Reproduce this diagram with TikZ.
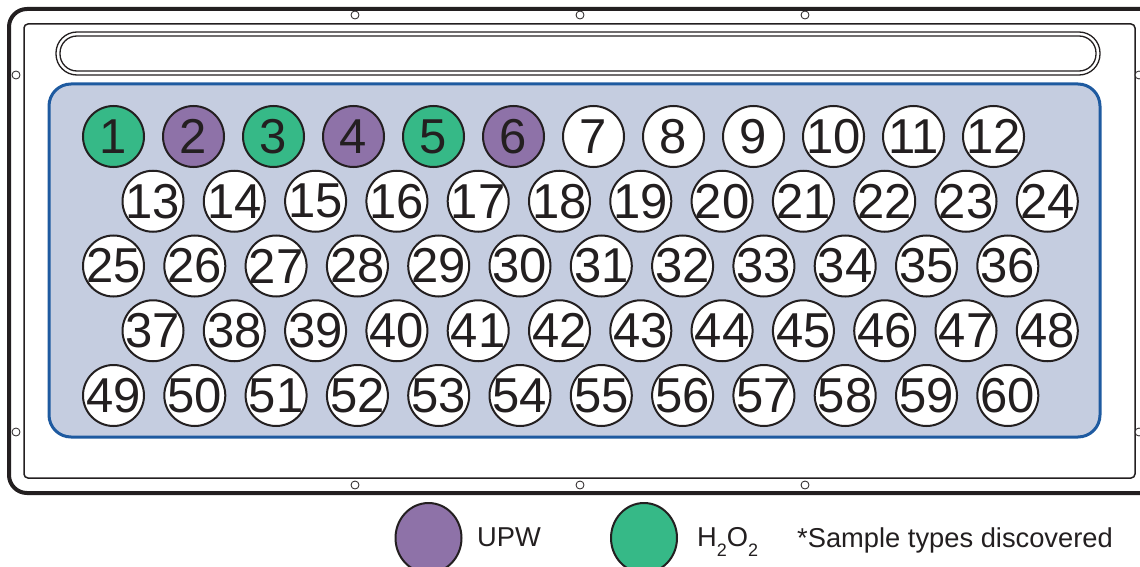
\documentclass[tikz,border=0pt]{standalone}
\usepackage{fontspec}
\setmainfont{Liberation Sans}
\usetikzlibrary{shapes.geometric}

\definecolor{ink}{RGB}{35,31,32}
\definecolor{wellgreen}{RGB}{54,185,135}
\definecolor{wellpurple}{RGB}{142,114,168}
\definecolor{panelfill}{RGB}{197,205,224}
\definecolor{panelblue}{RGB}{30,90,160}

\newcommand{\wellno}[1]{\makebox[0pt]{#1}}

\tikzset{
  well/.style={circle, draw=ink, line width=2pt, fill=white, minimum size=61pt,
    inner sep=0pt, text=ink, font=\fontsize{49}{49}\selectfont},
  upw/.style={well, fill=wellpurple},
  peroxide/.style={well, fill=wellgreen},
  keydot/.style={ellipse, draw=ink, line width=2pt, minimum width=66pt,
    minimum height=70pt, inner sep=0pt},
  keytext/.style={anchor=base west, inner sep=0pt, text=ink,
    font=\fontsize{27.3}{27.3}\selectfont},
}

\begin{document}
\begin{tikzpicture}[x=1pt,y=-1pt]
\useasboundingbox (0,0) rectangle (1140,567);
\clip (0,0) rectangle (1140,567);

% plate frame
\draw[ink, line width=4pt, rounded corners=18pt] (9,9) rectangle (1190,493);
\draw[ink, line width=1.5pt, rounded corners=4pt] (24,24) rectangle (1135,478);
\foreach \x in {355,580,805} {
  \draw[ink, line width=0.8pt, fill=white] (\x,15) circle (4);
  \draw[ink, line width=0.8pt, fill=white] (\x,485) circle (4);
}
\foreach \y in {75,432} {
  \draw[ink, line width=0.8pt, fill=white] (16,\y) circle (4);
  \draw[ink, line width=0.8pt, fill=white] (1139,\y) circle (4);
}

% label slot
\draw[ink, line width=1.3pt, rounded corners=21pt] (56,32) rectangle (1100,75);
\draw[ink, line width=1.3pt, rounded corners=17pt] (60,36) rectangle (1096,71);

% well area
\draw[panelblue, fill=panelfill, line width=3pt, rounded corners=22pt] (49,84) rectangle (1100,437);

% first row, with the samples
\foreach \n/\s in {1/peroxide,2/upw,3/peroxide,4/upw,5/peroxide,6/upw,
                   7/well,8/well,9/well,10/well,11/well,12/well}
  \node[\s] (w\n) at ({113.5+80*(\n-1)},136.5) {\wellno{\n}};

% other rows
\foreach \r/\x in {1/153,2/113.5,3/153,4/113.5}
  \foreach \c in {0,...,11} {
    \pgfmathtruncatemacro\n{12*\r+\c+1}
    \node[well] (w\n) at ({\x+81.3*\c},{136.5+64.75*\r}) {\wellno{\n}};
  }

% legend
\node[keydot, fill=wellpurple] (keyupw) at (428.5,538) {};
\node[keytext] (upwtext) at (477,546) {UPW};
\node[keydot, fill=wellgreen] (keyperox) at (644,538) {};
\node[keytext] (peroxtext) at (697,546) {H\raisebox{-0.7ex}{\fontsize{18}{18}\selectfont 2}O\raisebox{-0.7ex}{\fontsize{18}{18}\selectfont 2}};
\node[keytext] (note) at (797,547) {*Sample types discovered};
\end{tikzpicture}
\end{document}
